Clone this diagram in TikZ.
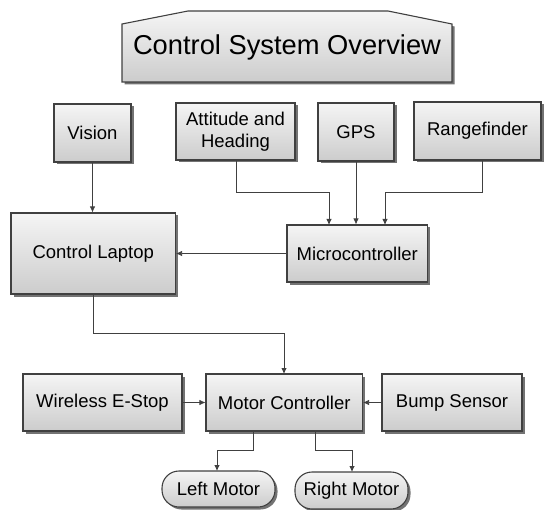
\documentclass[tikz,border=0pt]{standalone}
\usepackage{fontspec}
\setmainfont{Liberation Sans}
\usetikzlibrary{arrows.meta,shadows}
\begin{document}
\begin{tikzpicture}[x=1pt,y=-1pt,
  shadowed/.style={drop shadow={shadow xshift=2.5pt, shadow yshift=-2.5pt, fill=black!55, opacity=1}},
  blk/.style={draw=black!75, line width=1.1pt, top color=black!4, bottom color=black!20,
    shadowed, font=\fontsize{18.5}{22}\selectfont, align=center, inner sep=0pt},
  pill/.style={blk, rounded corners=17pt},
  conn/.style={draw=black!75, line width=0.8pt, -{Latex[length=6pt,width=5.5pt]}},
  ttl/.style={font=\fontsize{27.3}{32}\selectfont, inner sep=0pt}]
\useasboundingbox (0,0) rectangle (545,510);

% title shape
\path[draw=black!75, line width=1.1pt, top color=black!4, bottom color=black!20, shadowed]
  (122,82) -- (122,24) -- (188,11) -- (388,11) -- (452,24) -- (452,82) -- cycle;
\node[ttl, anchor=base] (title) at (287,55) {Control System Overview};

% boxes
\node[blk, minimum width=77pt, minimum height=58pt] (vision) at (92.5,133) {Vision};
\node[blk, minimum width=119pt, minimum height=57pt] (att) at (235.5,131.5) {Attitude and\\Heading};
\node[blk, minimum width=76pt, minimum height=58pt] (gps) at (356,132) {GPS};
\node[blk, minimum width=127pt, minimum height=58pt] (range) at (477.5,131) {Rangefinder};
\node[blk, minimum width=164.5pt, minimum height=81pt] (laptop) at (93.25,253.5) {Control Laptop};
\node[blk, minimum width=140.5pt, minimum height=57pt] (micro) at (357.25,253.5) {Microcontroller};
\node[blk, minimum width=159pt, minimum height=57pt] (estop) at (102.5,402.5) {Wireless E-Stop};
\node[blk, minimum width=156.5pt, minimum height=57pt] (motor) at (284.25,402.5) {Motor Controller};
\node[blk, minimum width=140pt, minimum height=57pt] (bump) at (452,402.5) {Bump Sensor};
\node[pill, minimum width=113pt, minimum height=36pt] (left) at (218.5,489) {Left Motor};
\node[pill, minimum width=113pt, minimum height=37pt] (right) at (351.5,490.5) {Right Motor};

% helper coordinates
\coordinate (attout) at (236,160);
\coordinate (attin) at (329,225);
\coordinate (rngout) at (482,160);
\coordinate (rngin) at (385,225);
\coordinate (mcl) at (253,431);
\coordinate (mcr) at (315,431);
\coordinate (lin) at (217,471);
\coordinate (rin) at (352,472);
\coordinate (mtop) at (284,374);

% connectors
\draw[conn] (vision.south) -- (vision.south |- laptop.north);
\draw[conn] (attout) |- (329,192) -- (attin);
\draw[conn] (gps.south) -- (gps.south |- micro.north);
\draw[conn] (rngout) |- (385,192) -- (rngin);
\draw[conn] (micro.west) -- (laptop.east |- micro.west);
\draw[conn] (laptop.south) |- (284,333) -- (mtop);
\draw[conn] (estop.east) -- (motor.west);
\draw[conn] (bump.west) -- (motor.east);
\draw[conn] (mcl) |- (217,450) -- (lin);
\draw[conn] (mcr) |- (352,450) -- (rin);
\end{tikzpicture}
\end{document}
